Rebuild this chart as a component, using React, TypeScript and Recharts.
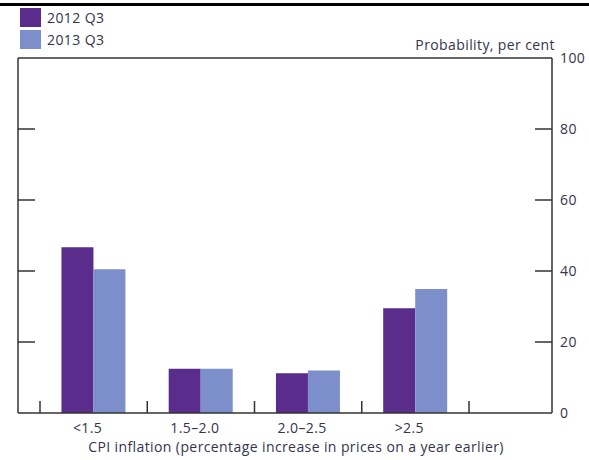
import { BarChart, Bar, XAxis, YAxis, ReferenceLine } from 'recharts'

const categories = ['<1.5', '1.5–2.0', '2.0–2.5', '>2.5']
const q3_2012 = [46.7, 12.5, 11.2, 29.5]
const q3_2013 = [40.5, 12.5, 12.0, 34.9]
const yTicks = [0, 20, 40, 60, 80, 100]

const PURPLE = '#5a2d8c'
const LIGHT = '#7d8fca'
const INK = '#333'
const TEXT = '#34344a'
const FONT = '"Open Sans", "Noto Sans", sans-serif'
const FS = 14
const LS = 0.4

const W = 589
const H = 460
// plot box: x 18..552, y 58..413
const PLOT = { left: 18, right: 552, top: 58, bottom: 413 }
const X_AX_H = 30
const R_AX_W = 37
const L_AX_W = 1
const M = { top: PLOT.top, right: W - PLOT.right - R_AX_W, left: PLOT.left - L_AX_W, bottom: H - PLOT.bottom - X_AX_H }
const PAD = { left: 22, right: 83 }
const BAND = (PLOT.right - PLOT.left - PAD.left - PAD.right) / categories.length

const data = categories.map((c, i) => ({ cat: c, a: q3_2012[i], b: q3_2013[i] }))

const RightTick = ({ y, payload }: any) => (
  <g>
    {payload.value > 0 && payload.value < 100 && (
      <line x1={PLOT.right - 17} x2={PLOT.right} y1={y} y2={y} stroke={INK} strokeWidth={1.5} />
    )}
    <text x={PLOT.right + 8} y={y} dy={5} fontSize={FS} letterSpacing={LS} fill={TEXT} fontFamily={FONT}>{payload.value}</text>
  </g>
)

const LeftTick = ({ y, payload }: any) =>
  payload.value > 0 && payload.value < 100 ? (
    <line x1={PLOT.left} x2={PLOT.left + 17} y1={y} y2={y} stroke={INK} strokeWidth={1.5} />
  ) : null

const XTick = ({ x, payload, index }: any) => {
  const base = PLOT.bottom
  return (
    <g>
      <line x1={x - BAND / 2} x2={x - BAND / 2} y1={base} y2={base - 12} stroke={INK} strokeWidth={1.5} />
      {index === categories.length - 1 && (
        <line x1={x + BAND / 2} x2={x + BAND / 2} y1={base} y2={base - 12} stroke={INK} strokeWidth={1.5} />
      )}
      <text x={x - 6} y={base + 20} textAnchor="middle" fontSize={FS} letterSpacing={LS} fill={TEXT} fontFamily={FONT}>{payload.value}</text>
    </g>
  )
}

export default function App() {
  return (
    <div style={{ position: 'absolute', left: 0, top: 0, width: W, height: H, background: '#fff', fontFamily: FONT, fontSize: FS, letterSpacing: LS, color: TEXT }}>
      <div style={{ position: 'absolute', left: 0, top: 3, width: W, height: 3, background: '#000' }} />
      <div style={{ position: 'absolute', left: 20, top: 8 }}>
        <div style={{ display: 'flex', alignItems: 'center', height: 19, marginBottom: 3 }}>
          <span style={{ width: 21, height: 19, background: PURPLE, marginRight: 6 }} />2012 Q3
        </div>
        <div style={{ display: 'flex', alignItems: 'center', height: 19 }}>
          <span style={{ width: 21, height: 19, background: LIGHT, marginRight: 6 }} />2013 Q3
        </div>
      </div>
      <div style={{ position: 'absolute', right: W - 555, top: 35 }}>
        Probability, per cent
      </div>
      <div style={{ position: 'absolute', left: 0, width: 592, top: 437, textAlign: 'center' }}>
        CPI inflation (percentage increase in prices on a year earlier)
      </div>
      <BarChart width={W} height={H} data={data} margin={M} barCategoryGap="20%" barGap={0}>
        <XAxis
          dataKey="cat"
          padding={PAD}
          height={X_AX_H}
          axisLine={{ stroke: INK, strokeWidth: 1.5 }}
          tickLine={false}
          tickSize={0}
          tickMargin={4}
          interval={0}
          tick={<XTick />}
        />
        <YAxis
          yAxisId="r"
          orientation="right"
          domain={[0, 100]}
          ticks={yTicks}
          interval={0}
          width={R_AX_W}
          axisLine={{ stroke: INK, strokeWidth: 1.5 }}
          tickLine={false}
          tickSize={0}
          tickMargin={10}
          tick={<RightTick />}
        />
        <YAxis
          yAxisId="l"
          orientation="left"
          domain={[0, 100]}
          ticks={yTicks}
          interval={0}
          width={L_AX_W}
          axisLine={{ stroke: INK, strokeWidth: 1.5 }}
          tickLine={false}
          tickSize={0}
          tickMargin={0}
          tick={<LeftTick />}
        />
        <ReferenceLine yAxisId="r" y={100} stroke={INK} strokeWidth={1.5} />
        <Bar yAxisId="l" dataKey="a" fill={PURPLE} isAnimationActive={false} />
        <Bar yAxisId="r" dataKey="b" fill={LIGHT} isAnimationActive={false} />
      </BarChart>
    </div>
  )
}
